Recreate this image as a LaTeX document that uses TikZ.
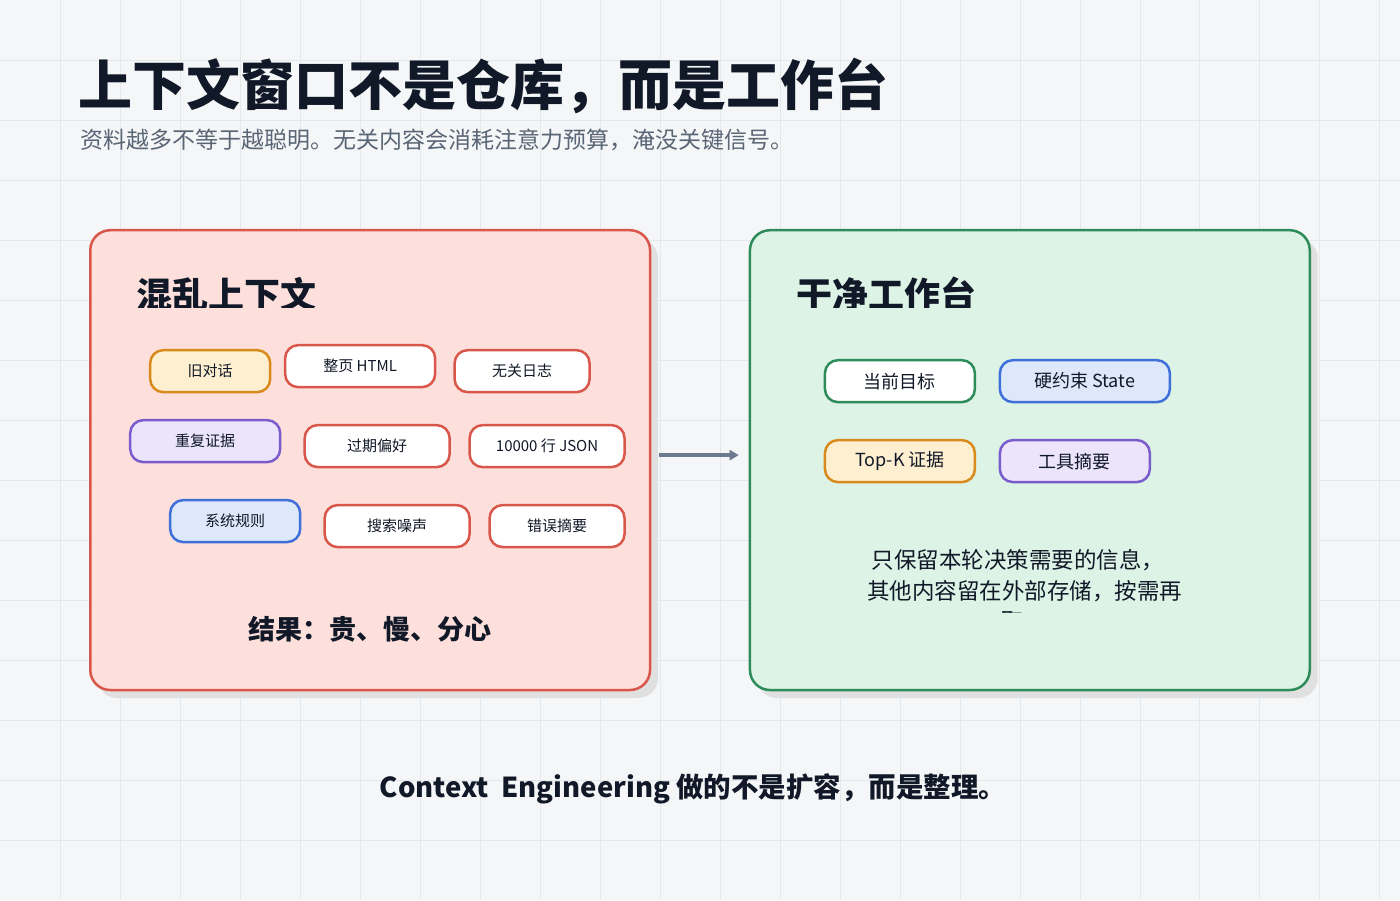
\documentclass[tikz,border=0pt]{standalone}
\usepackage{fontspec}
\setmainfont{Noto Sans CJK SC}
\usetikzlibrary{positioning,arrows.meta}
\definecolor{bgc}{HTML}{F4F6F7}
\definecolor{gridc}{HTML}{E4E8EB}
\definecolor{ink}{HTML}{111827}
\definecolor{subc}{HTML}{5A6675}
\definecolor{redc}{HTML}{D9574A}
\definecolor{redf}{HTML}{FDE0DC}
\definecolor{greenc}{HTML}{2E8B5A}
\definecolor{greenf}{HTML}{DCF3E6}
\definecolor{orgc}{HTML}{D98A1C}
\definecolor{orgf}{HTML}{FDEFD0}
\definecolor{purc}{HTML}{7B5CCC}
\definecolor{purf}{HTML}{EBE4FB}
\definecolor{bluc}{HTML}{3F6FD9}
\definecolor{bluf}{HTML}{DDE9FB}
\definecolor{arrc}{HTML}{6B7A8F}
\tikzset{
  panel/.style={draw, line width=2.5pt, rounded corners=20pt, inner sep=0pt},
  chip/.style={draw=redc, fill=white, line width=2.5pt, rounded corners=13pt,
    text=ink, inner sep=0pt, minimum height=42pt, font=\fontsize{15}{15}\selectfont},
  bigchip/.style={chip, font=\fontsize{18}{18}\selectfont},
  orange/.style={draw=orgc, fill=orgf},
  purple/.style={draw=purc, fill=purf},
  blue/.style={draw=bluc, fill=bluf},
  green/.style={draw=greenc, fill=white},
}
\begin{document}
\begin{tikzpicture}[x=1pt, y=-1pt]
  \fill[bgc] (0,0) rectangle (1400,900);
  \foreach \g in {60,120,...,1380} \draw[gridc, line width=0.6pt] (\g,0) -- (\g,900);
  \foreach \g in {60,120,...,840} \draw[gridc, line width=0.6pt] (0,\g) -- (1400,\g);

  % titles
  \node[anchor=base west, inner sep=0pt, text=ink, font=\fontsize{54}{54}\selectfont\bfseries] (title) at (78,105) {上下文窗口不是仓库，而是工作台};
  \node[anchor=base west, inner sep=0pt, text=subc, font=\fontsize{23}{23}\selectfont] (sub) at (80,148) {资料越多不等于越聪明。无关内容会消耗注意力预算，淹没关键信号。};

  % panels
  \fill[black!12, rounded corners=20pt] (97,238) rectangle (658,698);
  \fill[black!12, rounded corners=20pt] (757,238) rectangle (1318,698);
  \node[panel, draw=redc, fill=redf, minimum width=560pt, minimum height=460pt] (mess) at (370,460) {};
  \node[panel, draw=greenc, fill=greenf, minimum width=560pt, minimum height=460pt] (clean) at (1030,460) {};

  \begin{scope}
    \clip (100,240) rectangle (1300,307);
    \node[anchor=west, inner sep=0pt, text=ink, font=\fontsize{36}{36}\selectfont\bfseries] (messh) at (136,294) {混乱上下文};
    \node[anchor=west, inner sep=0pt, text=ink, font=\fontsize{36}{36}\selectfont\bfseries] (cleanh) at (796,294) {干净工作台};
  \end{scope}

  % left chips
  \node[chip, orange, minimum width=120pt] (old) at (210,371) {旧对话};
  \node[chip, minimum width=150pt] (html) at (360,366) {整页 HTML};
  \node[chip, minimum width=135pt] (log) at (522,371) {无关日志};
  \node[chip, purple, minimum width=150pt] (dup) at (205,441) {重复证据};
  \node[chip, minimum width=145pt] (pref) at (377,446) {过期偏好};
  \node[chip, minimum width=155pt] (json) at (547,446) {10000 行 JSON};
  \node[chip, blue, minimum width=130pt] (rule) at (235,521) {系统规则};
  \node[chip, minimum width=145pt] (noise) at (397,526) {搜索噪声};
  \node[chip, minimum width=135pt] (err) at (557,526) {错误摘要};
  \node[text=ink, font=\fontsize{27}{27}\selectfont\bfseries] (cost) at (370,629) {结果：贵、慢、分心};

  % right chips
  \node[bigchip, green, minimum width=150pt] (goal) at (900,381) {当前目标};
  \node[bigchip, blue, minimum width=170pt] (state) at (1085,381) {硬约束 State};
  \node[bigchip, orange, minimum width=150pt] (topk) at (900,461) {Top-K 证据};
  \node[bigchip, purple, minimum width=150pt] (tool) at (1075,461) {工具摘要};
  \node[text=ink, font=\fontsize{22.5}{22.5}\selectfont] (keep1) at (1018,560) {只保留本轮决策需要的信息，};
  \node[text=ink, font=\fontsize{22.5}{22.5}\selectfont] (keep2) at (1025,591) {其他内容留在外部存储，按需再};
  \begin{scope}
    \clip (900,605) rectangle (1100,612);
    \node[text=ink, font=\fontsize{22.5}{22.5}\selectfont] (keep3) at (1013,621) {取};
  \end{scope}

  \draw[arrc, line width=4pt, -{Triangle[length=9pt,width=10pt]}, shorten <=8pt, shorten >=10pt]
    (mess.east |- 0,455) -- (clean.west |- 0,455);

  \node[text=ink, font=\fontsize{27.5}{27.5}\selectfont\bfseries] (foot) at (693,789) {Context\ \ Engineering 做的不是扩容，而是整理。};
\end{tikzpicture}
\end{document}
